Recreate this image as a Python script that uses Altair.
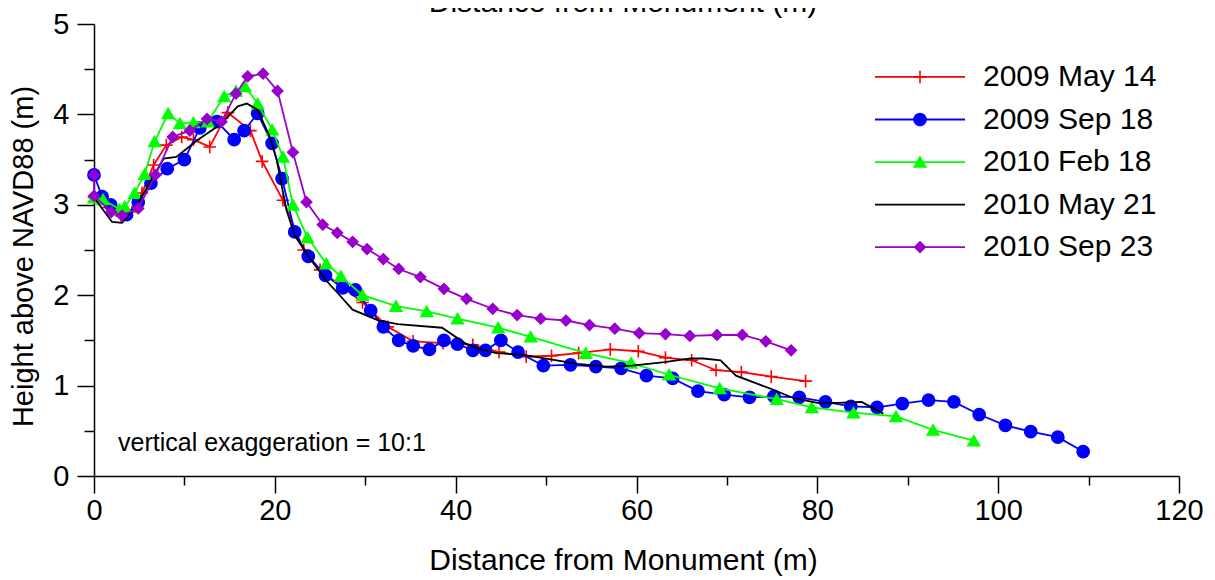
import altair as alt
import pandas as pd

FONT = "Liberation Sans"

series_names = ["2009 May 14", "2009 Sep 18", "2010 Feb 18", "2010 May 21", "2010 Sep 23"]
series_colors = ["#FF0000", "#0000FF", "#00FF00", "#000000", "#9900CC"]
series_shapes = ["M-1,0L1,0M0,-1L0,1", "circle", "triangle-up", "circle", "diamond"]
series_sizes = [160, 110, 150, 0, 120]
series_has_marker = [True, True, True, False, True]

may09_x = [0, 1.6, 3.0, 4.2, 5.3, 6.6, 8.0, 9.7, 11.0, 12.8, 14.8, 17.3, 18.6, 20.9, 23.2, 25.0, 29.7,
           32.5, 35.3, 38.6, 41.9, 44.8, 47.8, 50.6, 53.6, 57.1, 60.2, 63.2, 66.1, 68.8, 71.6, 74.9, 78.7]
may09_y = [3.08, 2.97, 2.88, 2.92, 3.13, 3.44, 3.66, 3.75, 3.72, 3.64, 4.02, 3.82, 3.48, 3.05, 2.50, 2.28, 1.92,
           1.65, 1.49, 1.47, 1.45, 1.37, 1.32, 1.33, 1.36, 1.40, 1.38, 1.31, 1.28, 1.17, 1.15, 1.10, 1.05]

sep09_x = [0, 0.9, 1.85, 3.6, 4.9, 6.3, 8.1, 10.0, 11.7, 13.6, 15.5, 16.6, 18.1, 19.7, 20.8, 22.2, 23.7,
           25.6, 27.5, 28.9, 30.6, 32.0, 33.7, 35.3, 37.1, 38.7, 40.2, 41.9, 43.3, 45.0, 46.9, 49.7, 52.7,
           55.5, 58.3, 61.1, 64.0, 66.8, 69.7, 72.5, 75.2, 78.0, 80.9, 83.7, 86.6, 89.4, 92.3, 95.1, 97.9,
           100.8, 103.6, 106.6, 109.4]
sep09_y = [3.33, 3.09, 3.00, 2.89, 3.03, 3.24, 3.40, 3.50, 3.85, 3.92, 3.72, 3.82, 4.01, 3.68, 3.29, 2.70, 2.43,
           2.22, 2.08, 2.06, 1.83, 1.65, 1.50, 1.44, 1.40, 1.50, 1.46, 1.39, 1.39, 1.50, 1.37, 1.22, 1.23,
           1.21, 1.19, 1.11, 1.08, 0.94, 0.90, 0.87, 0.88, 0.87, 0.82, 0.77, 0.76, 0.80, 0.84, 0.82, 0.68,
           0.56, 0.49, 0.43, 0.27]

feb10_x = [0, 1.0, 2.8, 3.4, 4.5, 5.6, 6.7, 8.2, 9.5, 11.0, 12.6, 14.4, 15.7, 16.7, 18.1, 19.7, 20.9,
           22.0, 23.6, 25.7, 27.3, 29.7, 33.4, 36.8, 40.2, 44.7, 48.3, 54.4, 59.4, 63.6, 69.2, 75.5, 79.4,
           84.0, 88.7, 92.8, 97.3]
feb10_y = [3.08, 3.06, 2.95, 2.98, 3.13, 3.34, 3.70, 4.01, 3.90, 3.91, 3.92, 4.20, 4.26, 4.31, 4.12, 3.83, 3.53,
           3.00, 2.64, 2.35, 2.21, 2.00, 1.88, 1.82, 1.74, 1.64, 1.54, 1.36, 1.25, 1.12, 0.97, 0.85, 0.76,
           0.70, 0.66, 0.51, 0.39]

may10_x = [0, 2.0, 3.1, 4.7, 7.7, 9.1, 11.5, 14.0, 15.9, 16.9, 18.1, 19.4, 20.2, 20.7, 21.3, 22.2, 24.0,
           25.7, 26.9, 28.6, 31.5, 33.6, 38.5, 41.0, 42.8, 44.5, 47.5, 50.5, 53.5, 56.7, 59.5, 63.1, 66.0,
           67.4, 69.3, 71.0, 75.0, 77.4, 80.0, 82.2, 84.9, 87.3]
may10_y = [3.08, 2.81, 2.80, 2.99, 3.51, 3.53, 3.72, 3.89, 4.09, 4.12, 4.05, 3.76, 3.50, 3.24, 2.94, 2.66, 2.39,
           2.16, 2.03, 1.84, 1.72, 1.68, 1.64, 1.47, 1.40, 1.36, 1.34, 1.29, 1.24, 1.21, 1.22, 1.26, 1.30,
           1.30, 1.28, 1.11, 0.96, 0.86, 0.81, 0.81, 0.82, 0.69]

sep10_x = [0, 0, 1.9, 3.1, 4.9, 6.8, 8.7, 10.6, 12.5, 14.1, 15.7, 17.0, 18.7, 20.3, 22.0, 23.5, 25.3,
           26.9, 28.6, 30.2, 32.0, 33.7, 36.1, 38.7, 41.2, 44.1, 46.8, 49.4, 52.2, 54.8, 57.6, 60.3, 63.2,
           65.9, 68.9, 71.7, 74.3, 77.1]
sep10_y = [3.33, 3.10, 2.92, 2.88, 2.96, 3.33, 3.75, 3.82, 3.95, 3.92, 4.23, 4.42, 4.45, 4.26, 3.58, 3.03, 2.78,
           2.69, 2.59, 2.51, 2.40, 2.29, 2.20, 2.07, 1.96, 1.85, 1.78, 1.74, 1.72, 1.67, 1.63, 1.58, 1.57,
           1.55, 1.56, 1.56, 1.49, 1.39]

x_ticks = [0, 10, 20, 30, 40, 50, 60, 70, 80, 90, 100, 110, 120]
y_ticks = [0, 0.5, 1, 1.5, 2, 2.5, 3, 3.5, 4, 4.5, 5]
x_title = "Distance from Monument (m)"
y_title = "Height above NAVD88 (m)"
note_text = "vertical exaggeration = 10:1"

all_x = [may09_x, sep09_x, feb10_x, may10_x, sep10_x]
all_y = [may09_y, sep09_y, feb10_y, may10_y, sep10_y]

rows = []
for name, xs, ys in zip(series_names, all_x, all_y):
    for i, (xv, yv) in enumerate(zip(xs, ys)):
        rows.append({"series": name, "i": i, "x": xv, "y": yv})
df = pd.DataFrame(rows)

legend_df = pd.DataFrame({
    "series": series_names,
    "k": list(range(len(series_names))),
    "marker": series_has_marker,
})

color_scale = alt.Scale(domain=series_names, range=series_colors)
shape_scale = alt.Scale(domain=series_names, range=series_shapes)
size_scale = alt.Scale(domain=series_names, range=series_sizes)

x_axis = alt.Axis(
    values=x_ticks,
    labelExpr="datum.value % 20 === 0 ? format(datum.value, 'd') : ''",
    tickSize={"condition": {"test": "datum.value % 20 !== 0", "value": 9}, "value": 17},
    labelPadding=3,
    labelFlush=False,
    labelOverlap=False,
    title=x_title,
    titleFontSize=30,
    titleX=529,
    titleY=93,
    titleAlign="center",
    titleBaseline="alphabetic",
    titleAnchor="start",
)
y_axis = alt.Axis(
    values=y_ticks,
    labelExpr="datum.value % 1 === 0 ? format(datum.value, 'd') : ''",
    tickSize={"condition": {"test": "datum.value % 1 !== 0", "value": 10}, "value": 17},
    labelPadding=8,
    labelFlush=False,
    labelOverlap=False,
    title=y_title,
    titleX=-62,
    titleY=232,
    titleAngle=-90,
    titleAlign="center",
    titleBaseline="alphabetic",
)
x_scale = alt.Scale(domain=[0, 120], nice=False, zero=False)
y_scale = alt.Scale(domain=[0, 5], nice=False, zero=False)

X = alt.X("x:Q", scale=x_scale, axis=x_axis)
Y = alt.Y("y:Q", scale=y_scale, axis=y_axis)
C = alt.Color("series:N", scale=color_scale, legend=None)
S = alt.Stroke("series:N", scale=color_scale, legend=None)
SH = alt.Shape("series:N", scale=shape_scale, legend=None)
SZ = alt.Size("series:N", scale=size_scale, legend=None)

base = alt.Chart(df)
layers = []
for name, has_m in zip(series_names, series_has_marker):
    sub = base.transform_filter(alt.datum.series == name)
    layers.append(sub.mark_line(strokeWidth=1.8).encode(x=X, y=Y, color=C, order="i:Q"))
    if has_m:
        layers.append(
            sub.mark_point(filled=True, strokeWidth=1.6, opacity=1).encode(
                x=X, y=Y, color=C, stroke=S, shape=SH, size=SZ
            )
        )

# legend (drawn as marks, positioned in the upper right)
leg = alt.Chart(legend_df).transform_calculate(ly="4.414 - 0.4705 * datum.k")
LY = alt.Y("ly:Q", scale=y_scale, axis=y_axis)
leg_line = leg.mark_rule(strokeWidth=1.8).encode(
    x=alt.value(781), x2=alt.value(871), y=LY, color=C)
leg_pts = leg.transform_filter("datum.marker").mark_point(filled=True, strokeWidth=1.6, opacity=1).encode(
    x=alt.value(826), y=LY, color=C, stroke=S, shape=SH, size=SZ)
leg_txt = leg.mark_text(align="left", baseline="middle", fontSize=30, font=FONT, color="black").encode(
    x=alt.value(889), y=LY, text="series:N")

note = alt.Chart(pd.DataFrame({"t": [note_text]})).mark_text(
    align="left", baseline="middle", fontSize=25, font=FONT, color="black"
).encode(x=alt.value(24), y=alt.value(419), text="t:N")

# upper (mirrored) axis title, partly cut off at the top edge as in the reference
top_title = alt.Chart(pd.DataFrame({"t": [x_title]})).mark_text(
    align="center", baseline="alphabetic", fontSize=30, font=FONT, color="black"
).encode(x=alt.value(529), y=alt.value(-12), text="t:N")

chart = alt.layer(*layers, leg_line, leg_pts, leg_txt, note, top_title).properties(
    width=1085,
    height=452,
    padding={"left": 86, "top": 16, "right": 28, "bottom": 102},
    autosize=alt.AutoSizeParams(type="none"),
).configure_view(stroke=None).configure_axis(
    grid=False,
    domainColor="black",
    domainWidth=1.5,
    tickColor="black",
    tickWidth=1.5,
    labelFont=FONT,
    labelFontSize=29,
    labelColor="black",
    titleFont=FONT,
    titleFontSize=29,
    titleFontWeight="normal",
    titleColor="black",
)

chart.save("out.html", embed_options={"renderer": "svg", "actions": False})
